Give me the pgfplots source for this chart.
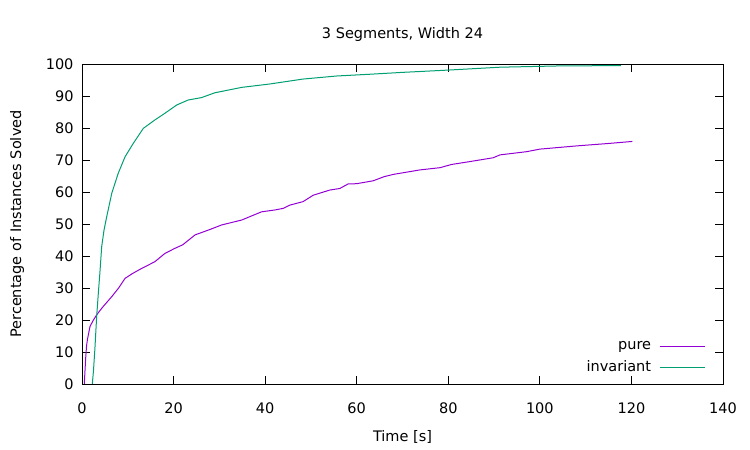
\documentclass[border=0pt]{standalone}
\usepackage{fontspec}
\setmainfont{DejaVu Sans}
\usepackage{pgfplots}
\pgfplotsset{compat=1.18}
\definecolor{gpurple}{HTML}{9400D3}
\definecolor{ggreen}{HTML}{009E73}
\newcommand{\gfont}{\fontsize{14.5bp}{17bp}\selectfont}
\begin{document}
\begin{tikzpicture}[font=\gfont]
\path[use as bounding box] (-82bp,-66bp) rectangle (668bp,384bp);
\begin{axis}[
  at={(0,0)}, anchor=south west,
  scale only axis, width=641bp, height=320bp,
  xmin=0, xmax=140, ymin=0, ymax=100,
  xtick={0,20,...,140}, ytick={0,10,...,100},
  tick pos=both, tick align=inside,
  major tick length=8bp,
  axis line style={line width=0.8bp},
  every tick/.style={black, line width=0.8bp},
  /pgf/number format/assume math mode=true,
  tick label style={font=\gfont},
  yticklabel style={xshift=-5bp},
  xticklabel style={yshift=-15bp},
  title={3 Segments, Width 24},
  title style={at={(axis description cs:0.5,1.072)}, anchor=center, font=\gfont},
  xlabel={Time [s]},
  xlabel style={at={(axis description cs:0.5,-0.166)}, anchor=center, font=\gfont},
  ylabel={Percentage of Instances Solved},
  ylabel style={at={(axis description cs:-0.1014,0.5)}, anchor=center, font=\gfont},
  legend style={draw=none, fill=none, at={(0.977,0.02)}, anchor=south east,
    legend cell align=right, row sep=6bp, font=\gfont,
    /tikz/every odd column/.append style={column sep=6bp},
    /tikz/every even column/.append style={column sep=0bp}},
  legend plot pos=right,
  legend image code/.code={\draw[#1] (0bp,0bp) -- (45bp,0bp);},
]
\addplot[gpurple, line width=1bp] coordinates {
(0.5,0) (0.8,8) (1.0,12) (1.2,14) (1.75,18) (2.5,20) (3.2,21.6) (4.5,24) (6.5,27.3) (8,30) (9.4,33) (11,34.5) (13,36.1) (15.9,38.2) (18.1,40.8) (20.3,42.4) (22,43.5) (24.7,46.6) (27.6,48.1) (30.5,49.7) (34.9,51.25) (37,52.5) (39.2,53.8) (42.2,54.4) (44,54.9) (45.4,55.9) (48.3,57) (50.5,59) (54.1,60.6) (56.3,61.1) (58.1,62.5) (60,62.6) (63.6,63.5) (66,64.8) (68,65.5) (73.8,66.9) (78.2,67.6) (80.7,68.6) (84.7,69.5) (89.8,70.7) (91.3,71.6) (97.1,72.6) (100,73.4) (108,74.4) (115.3,75.2) (120.2,75.8)
};
\addlegendentry{pure}
\addplot[ggreen, line width=1bp] coordinates {
(2.25,0) (2.5,4) (2.8,10.6) (3.2,21) (3.6,29) (3.9,34.6) (4.3,42.9) (4.8,48) (5.4,52.3) (6.5,59.6) (7.9,65.8) (9.4,71) (11.2,75.2) (13.4,79.9) (15.9,82.5) (18.1,84.6) (20.7,87.2) (23.2,88.75) (26.1,89.5) (29,91) (34.9,92.7) (41,93.75) (48.3,95.3) (55.6,96.25) (62.9,96.8) (70.2,97.4) (80,98.1) (91.3,99) (104.4,99.4) (117.7,99.5)
};
\addlegendentry{invariant}
\end{axis}
\end{tikzpicture}
\end{document}
